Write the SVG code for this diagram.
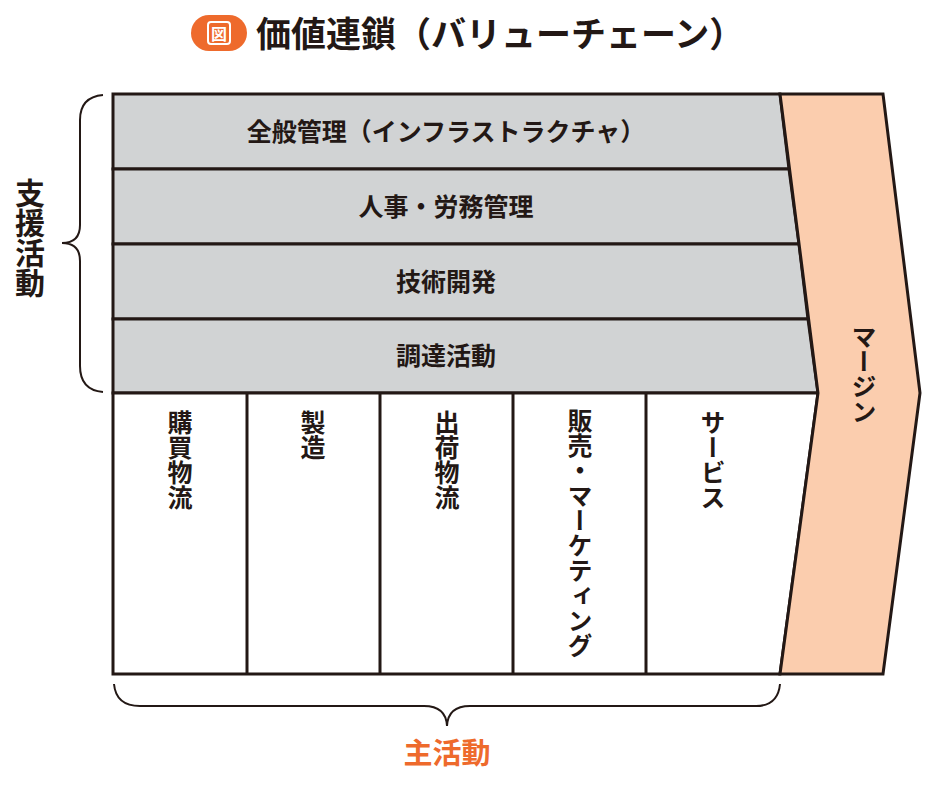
<svg xmlns="http://www.w3.org/2000/svg" width="944" height="785" viewBox="0 0 944 785">
<style>
text{font-family:"Noto Sans CJK JP",sans-serif;font-weight:bold;fill:#231815}
.s{stroke:#231815;stroke-width:3;stroke-linejoin:miter}
.g{fill:#d1d3d4}
.t{font-size:25px;text-anchor:middle}
.v{font-size:25px;writing-mode:vertical-rl;glyph-orientation-vertical:0}
.br{fill:none;stroke:#231815;stroke-width:2}
</style>
<g id="title">
<rect x="191" y="15" width="56" height="36" rx="18" fill="#ee6a2c"/>
<rect x="208" y="22" width="22" height="22" rx="3" fill="none" stroke="#fff" stroke-width="2"/>
<text x="219" y="40" font-size="16" text-anchor="middle" style="fill:#fff">図</text>
<text x="256" y="47" style="font-size:35px">価値連鎖（バリューチェーン）</text>
</g>
<g id="support">
<polygon class="s g" points="113,94 780,94 789,169 113,169"/>
<polygon class="s g" points="113,169 789,169 799,244 113,244"/>
<polygon class="s g" points="113,244 799,244 808,319 113,319"/>
<polygon class="s g" points="113,319 808,319 818,393 113,393"/>
<text class="t" x="446" y="141">全般管理（インフラストラクチャ）</text>
<text class="t" x="446" y="216">人事・労務管理</text>
<text class="t" x="446" y="291">技術開発</text>
<text class="t" x="446" y="365">調達活動</text>
</g>
<g id="primary">
<polygon class="s" fill="#fff" points="113,393 818,393 780,674 113,674"/>
<line class="s" x1="247" y1="393" x2="247" y2="674"/>
<line class="s" x1="380" y1="393" x2="380" y2="674"/>
<line class="s" x1="513" y1="393" x2="513" y2="674"/>
<line class="s" x1="646" y1="393" x2="646" y2="674"/>
<text class="v" x="180" y="410">購買物流</text>
<text class="v" x="313" y="410">製造</text>
<text class="v" x="447" y="410">出荷物流</text>
<text class="v" x="580" y="408">販売・マーケティング</text>
<text class="v" x="713" y="410">サービス</text>
</g>
<g id="margin">
<polygon class="s" fill="#fbcdae" points="780,94 883,94 920,393 883,674 780,674 818,393"/>
<text class="v" x="864" y="324">マージン</text>
</g>
<g id="braces">
<path class="br" d="M103,95 Q80,97 80,120 L80,225 Q80,243 62,243 Q80,243 80,261 L80,366 Q80,390 103,392"/>
<path class="br" d="M114,684 Q116,706 140,706 L424,706 Q446,706 447,726 Q448,706 470,706 L756,706 Q778,706 780,684"/>
</g>
<g id="labels">
<text class="v" x="30" y="178" style="font-size:30px">支援活動</text>
<text x="447" y="764" text-anchor="middle" style="fill:#ee6a2c;font-size:29px">主活動</text>
</g>
</svg>
